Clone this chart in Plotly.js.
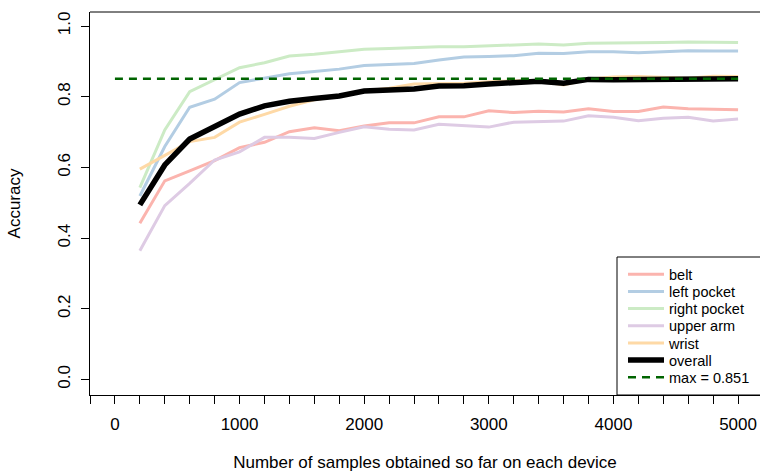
<!DOCTYPE html>
<html><head><meta charset="utf-8">
<script src="https://cdn.plot.ly/plotly-3.0.1.min.js"></script>
<style>html,body{margin:0;padding:0;background:#fff}#chart{width:760px;height:474px}</style>
</head><body><div id="chart"></div>
<script>
// ---- data ----
const samples = [200,400,600,800,1000,1200,1400,1600,1800,2000,2200,2400,2600,2800,3000,3200,3400,3600,3800,4000,4200,4400,4600,4800,5000];
const belt = [0.442,0.562,0.590,0.619,0.656,0.671,0.701,0.712,0.704,0.717,0.726,0.726,0.743,0.743,0.760,0.755,0.759,0.757,0.766,0.758,0.758,0.771,0.766,0.765,0.763];
const leftPocket = [0.519,0.659,0.770,0.793,0.840,0.852,0.865,0.871,0.878,0.888,0.890,0.894,0.904,0.912,0.914,0.916,0.923,0.922,0.927,0.927,0.924,0.927,0.930,0.929,0.929];
const rightPocket = [0.543,0.706,0.814,0.849,0.882,0.896,0.915,0.920,0.926,0.934,0.936,0.939,0.941,0.941,0.943,0.947,0.949,0.946,0.951,0.952,0.952,0.953,0.955,0.953,0.953];
const upperArm = [0.364,0.492,0.555,0.621,0.644,0.685,0.685,0.682,0.699,0.715,0.708,0.706,0.722,0.719,0.714,0.728,0.729,0.731,0.746,0.742,0.732,0.739,0.742,0.731,0.737];
const wrist = [0.595,0.635,0.673,0.685,0.728,0.750,0.773,0.791,0.802,0.816,0.824,0.836,0.836,0.838,0.842,0.845,0.845,0.833,0.850,0.856,0.857,0.855,0.852,0.858,0.857];
const overall = [0.494,0.607,0.680,0.715,0.751,0.774,0.787,0.795,0.802,0.816,0.818,0.822,0.830,0.831,0.836,0.841,0.844,0.838,0.849,0.848,0.848,0.849,0.850,0.850,0.851];
const seriesNames = ['belt','left pocket','right pocket','upper arm','wrist','overall'];
const seriesValues = [belt, leftPocket, rightPocket, upperArm, wrist, overall];
const seriesColors = ['#FBB4AE','#B3CDE3','#CCEBC5','#DECBE4','#FED9A6','#000000'];
const maxAccuracy = Math.max(...overall);
const maxLineX = [0, 5000];
const xTickVals = [0,1000,2000,3000,4000,5000];
const yTickVals = [0,0.2,0.4,0.6,0.8,1.0];

// ---- layout geometry (pixels) ----
const W = 760, H = 474;
const PL = 90, PR = 760, PT = 12, PB = 395;
const pw = PR - PL, ph = PB - PT;
const FONT = 'Liberation Sans, Arial, Helvetica, sans-serif';

const legX = (623 - PL) / pw;
const legY0 = 274.3, legStep = 17.17;
function legKey(i){ return i === 0 ? 'legend' : 'legend' + (i + 1); }

const traces = [];
seriesNames.forEach((name, i) => {
  traces.push({
    x: samples, y: seriesValues[i], type: 'scatter', mode: 'lines', name: name,
    line: {color: seriesColors[i], width: name === 'overall' ? 5.5 : 3},
    legend: legKey(i), hoverinfo: 'skip'
  });
});
traces.push({
  x: maxLineX, y: [maxAccuracy, maxAccuracy], type: 'scatter', mode: 'lines',
  name: 'max = ' + maxAccuracy.toFixed(3),
  line: {color: '#006400', width: 2.5, dash: '8px,6px'},
  legend: legKey(6), hoverinfo: 'skip'
});

const layout = {
  width: W, height: H,
  margin: {l: PL, r: W - PR, t: PT, b: H - PB, autoexpand: false},
  paper_bgcolor: '#fff', plot_bgcolor: '#fff',
  font: {family: FONT, color: '#000', size: 17},
  showlegend: true,
  xaxis: {
    range: [-200, -200 + 5376], tickvals: xTickVals, ticktext: xTickVals.map(String),
    ticks: 'outside', ticklen: 8, tickwidth: 1, tickcolor: '#000',
    minor: {dtick: 200, tick0: 0, ticks: 'outside', ticklen: 8, tickwidth: 1, tickcolor: '#000', showgrid: false},
    showline: true, linecolor: '#000', linewidth: 1,
    showgrid: false, zeroline: false, tickfont: {size: 17, family: FONT},
    ticklabelstandoff: 6,
    title: {text: 'Number of samples obtained so far on each device', font: {size: 17, family: FONT}, standoff: 22},
    fixedrange: true
  },
  yaxis: {
    range: [-0.0438, 1.0396], tickvals: yTickVals, tickformat: '.1f', tickangle: -90,
    ticks: 'outside', ticklen: 8, tickwidth: 1, tickcolor: '#000',
    showline: true, linecolor: '#000', linewidth: 1,
    showgrid: false, zeroline: false, tickfont: {size: 17, family: FONT},
    ticklabelstandoff: 4,
    title: {text: 'Accuracy', font: {size: 17, family: FONT}, standoff: 30},
    fixedrange: true
  },
  shapes: [
    {type: 'line', xref: 'paper', yref: 'paper', x0: 0, x1: 1, y0: 1, y1: 1, line: {color: '#000', width: 1}},
    {type: 'rect', xref: 'paper', yref: 'paper', x0: (617 - PL) / pw, x1: 1.05, y0: 0, y1: (PB - 257) / ph,
     line: {color: '#000', width: 1}, fillcolor: 'rgba(0,0,0,0)', layer: 'above'}
  ]
};
for (let i = 0; i < 7; i++) {
  layout[legKey(i)] = {
    x: legX, xanchor: 'left', y: (PB - (legY0 + i * legStep)) / ph, yanchor: 'middle',
    bgcolor: 'rgba(0,0,0,0)', borderwidth: 0, font: {size: 14.5, family: FONT, color: '#000'},
    itemwidth: 36, itemclick: false, itemdoubleclick: false
  };
}

Plotly.newPlot('chart', traces, layout, {staticPlot: true, displayModeBar: false});
</script>
</body></html>
